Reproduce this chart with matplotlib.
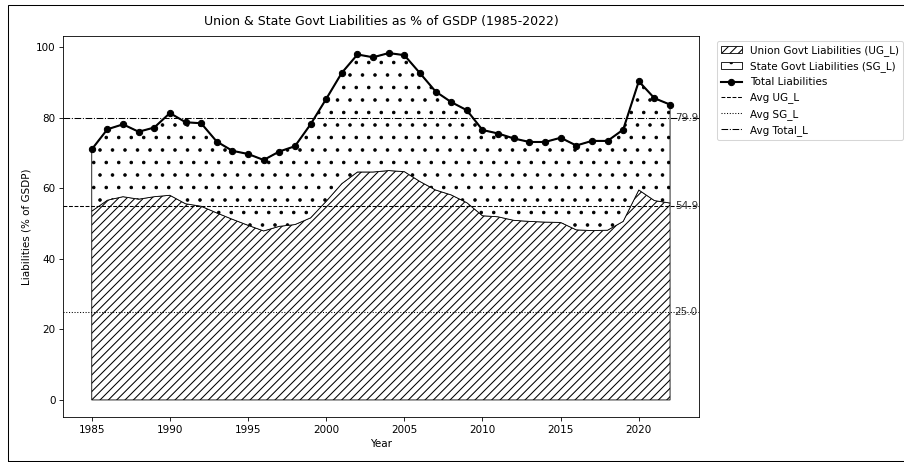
import matplotlib
matplotlib.use("Agg")
import matplotlib.pyplot as plt
from matplotlib.patches import Rectangle
import numpy as np

years = list(range(1985, 2023))
ug_l = [53.5, 56.6, 57.6, 56.9, 57.6, 58.0, 55.6, 54.9, 53.0, 51.2,
        49.5, 47.9, 49.2, 49.7, 51.6, 56.3, 61.3, 64.6, 64.6, 65.0,
        64.7, 61.9, 59.5, 58.1, 55.9, 52.2, 51.9, 50.9, 50.6, 50.4,
        50.3, 48.2, 48.0, 48.1, 50.6, 59.5, 56.5, 55.8]
sg_l = [17.5, 20.1, 20.5, 19.1, 19.6, 23.3, 23.1, 23.5, 20.2, 19.4,
        20.2, 20.1, 21.2, 22.2, 26.5, 29.0, 31.4, 33.3, 32.5, 33.3,
        33.0, 30.7, 27.9, 26.3, 26.2, 24.3, 23.6, 23.2, 22.5, 22.7,
        24.0, 23.9, 25.4, 25.3, 26.0, 30.8, 29.0, 27.9]

title = "Union & State Govt Liabilities as % of GSDP (1985-2022)"
xlabel = "Year"
ylabel = "Liabilities (% of GSDP)"

ug = np.array(ug_l)
sg = np.array(sg_l)
total = ug + sg

DPI = 75
fig = plt.figure(figsize=(904 / DPI, 462 / DPI), dpi=DPI)
ax = fig.add_axes([0.0695, 0.0968, 0.7732 - 0.0695, 0.9227 - 0.0968])

ax.stackplot(years, ug, sg, colors=["white", "white"], hatch=["///", "."],
             edgecolor="black", linewidth=0.8,
             labels=["Union Govt Liabilities (UG_L)", "State Govt Liabilities (SG_L)"])
ax.plot(years, total, "o-", color="black", linewidth=2, markersize=6,
        label="Total Liabilities")

avg_ug = ug.mean()
avg_sg = sg.mean()
avg_tot = total.mean()
ax.axhline(avg_ug, color="black", linestyle="--", linewidth=1, label="Avg UG_L")
ax.axhline(avg_sg, color="black", linestyle=":", linewidth=1, label="Avg SG_L")
ax.axhline(avg_tot, color="black", linestyle="-.", linewidth=1, label="Avg Total_L")

for v in (avg_ug, avg_sg, avg_tot):
    ax.text(years[-1] + 0.3, v, f"{v:.1f}", va="center", ha="left", color="#333333")

ymax = total.max()
ax.set_ylim(-0.05 * ymax, 1.05 * ymax)

ax.set_title(title, pad=10)
ax.set_xlabel(xlabel)
ax.set_ylabel(ylabel)
ax.legend(loc="upper left", bbox_to_anchor=(1.02, 1))

fig.add_artist(Rectangle((8 / 904, 1 / 462), 1.2, (461 - 5) / 462,
                         transform=fig.transFigure, fill=False,
                         edgecolor="black", linewidth=1))

fig.savefig("out.png", dpi=DPI)
